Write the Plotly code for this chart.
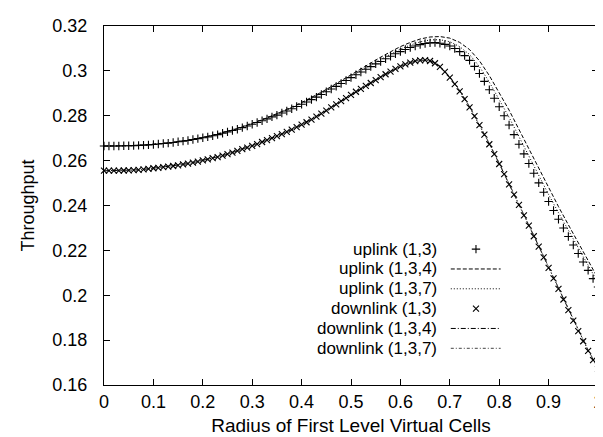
import numpy as np
import plotly.graph_objects as go

# ---------------- data ----------------
x_fine = np.round(np.linspace(0, 1, 101), 2)      # marker grid, step 0.01
x_coarse = np.round(np.linspace(0, 1, 51), 2)     # line grid, step 0.02

uplink_13 = [
    0.2665, 0.2665, 0.2665, 0.2665, 0.2666, 0.2666, 0.2667, 0.2668, 0.2669, 0.2670,
    0.2672, 0.2674, 0.2676, 0.2678, 0.2681, 0.2684, 0.2687, 0.2690, 0.2694, 0.2698,
    0.2702, 0.2706, 0.2711, 0.2716, 0.2722, 0.2728, 0.2734, 0.2740, 0.2747, 0.2754,
    0.2762, 0.2770, 0.2778, 0.2786, 0.2795, 0.2803, 0.2812, 0.2821, 0.2831, 0.2841,
    0.2851, 0.2861, 0.2872, 0.2883, 0.2895, 0.2907, 0.2919, 0.2931, 0.2944, 0.2957,
    0.2970, 0.2983, 0.2995, 0.3007, 0.3019, 0.3031, 0.3042, 0.3054, 0.3065, 0.3076,
    0.3086, 0.3095, 0.3104, 0.3111, 0.3117, 0.3122, 0.3125, 0.3126, 0.3123, 0.3118,
    0.3111, 0.3100, 0.3086, 0.3068, 0.3047, 0.3020, 0.2988, 0.2953, 0.2916, 0.2878,
    0.2840, 0.2800, 0.2759, 0.2716, 0.2673, 0.2630, 0.2587, 0.2544, 0.2501, 0.2459,
    0.2418, 0.2378, 0.2339, 0.2300, 0.2262, 0.2224, 0.2186, 0.2148, 0.2111, 0.2074,
    0.2037,
]

downlink_13 = [
    0.2555, 0.2555, 0.2555, 0.2555, 0.2556, 0.2557, 0.2558, 0.2559, 0.2561, 0.2563,
    0.2566, 0.2568, 0.2571, 0.2573, 0.2576, 0.2579, 0.2583, 0.2587, 0.2591, 0.2596,
    0.2601, 0.2606, 0.2611, 0.2616, 0.2622, 0.2629, 0.2636, 0.2643, 0.2651, 0.2658,
    0.2666, 0.2674, 0.2683, 0.2691, 0.2700, 0.2709, 0.2718, 0.2728, 0.2738, 0.2749,
    0.2760, 0.2771, 0.2783, 0.2796, 0.2809, 0.2823, 0.2837, 0.2851, 0.2865, 0.2879,
    0.2893, 0.2907, 0.2920, 0.2933, 0.2946, 0.2959, 0.2972, 0.2985, 0.2997, 0.3009,
    0.3020, 0.3029, 0.3037, 0.3043, 0.3047, 0.3048, 0.3044, 0.3034, 0.3018, 0.2996,
    0.2970, 0.2941, 0.2909, 0.2874, 0.2837, 0.2798, 0.2758, 0.2716, 0.2673, 0.2629,
    0.2585, 0.2540, 0.2494, 0.2448, 0.2403, 0.2356, 0.2310, 0.2263, 0.2217, 0.2169,
    0.2122, 0.2075, 0.2028, 0.1981, 0.1934, 0.1887, 0.1840, 0.1795, 0.1752, 0.1711,
    0.1672,
]

uplink_134 = [
    0.2665, 0.2665, 0.2666, 0.2667, 0.2669, 0.2672, 0.2676, 0.2681, 0.2688, 0.2695,
    0.2703, 0.2713, 0.2724, 0.2736, 0.2750, 0.2765, 0.2782, 0.2800, 0.2818, 0.2838,
    0.2859, 0.2881, 0.2905, 0.2930, 0.2956, 0.2985, 0.3011, 0.3036, 0.3061, 0.3085,
    0.3108, 0.3127, 0.3142, 0.3151, 0.3153, 0.3146, 0.3127, 0.3095, 0.3045, 0.2979,
    0.2905, 0.2825, 0.2739, 0.2652, 0.2565, 0.2478, 0.2395, 0.2314, 0.2234, 0.2154,
    0.2075,
]

uplink_137 = [
    0.2665, 0.2665, 0.2666, 0.2667, 0.2669, 0.2672, 0.2676, 0.2681, 0.2687, 0.2694,
    0.2702, 0.2712, 0.2723, 0.2735, 0.2748, 0.2763, 0.2780, 0.2797, 0.2815, 0.2834,
    0.2855, 0.2876, 0.2900, 0.2924, 0.2950, 0.2977, 0.3003, 0.3027, 0.3051, 0.3075,
    0.3097, 0.3115, 0.3129, 0.3138, 0.3139, 0.3130, 0.3108, 0.3073, 0.3019, 0.2950,
    0.2874, 0.2793, 0.2707, 0.2620, 0.2534, 0.2449, 0.2368, 0.2289, 0.2211, 0.2133,
    0.2056,
]

downlink_134 = [
    0.2555, 0.2555, 0.2556, 0.2558, 0.2561, 0.2566, 0.2571, 0.2576, 0.2583, 0.2591,
    0.2601, 0.2611, 0.2622, 0.2636, 0.2651, 0.2666, 0.2683, 0.2700, 0.2718, 0.2738,
    0.2760, 0.2783, 0.2809, 0.2837, 0.2865, 0.2893, 0.2920, 0.2946, 0.2972, 0.2997,
    0.3020, 0.3037, 0.3048, 0.3046, 0.3020, 0.2972, 0.2911, 0.2839, 0.2760, 0.2675,
    0.2587, 0.2496, 0.2405, 0.2312, 0.2219, 0.2124, 0.2030, 0.1936, 0.1842, 0.1754,
    0.1674,
]

downlink_137 = [
    0.2555, 0.2555, 0.2556, 0.2558, 0.2561, 0.2566, 0.2571, 0.2577, 0.2584, 0.2592,
    0.2601, 0.2611, 0.2623, 0.2637, 0.2652, 0.2667, 0.2684, 0.2701, 0.2719, 0.2739,
    0.2761, 0.2784, 0.2810, 0.2838, 0.2866, 0.2894, 0.2921, 0.2947, 0.2973, 0.2998,
    0.3021, 0.3038, 0.3049, 0.3047, 0.3022, 0.2974, 0.2913, 0.2841, 0.2762, 0.2677,
    0.2589, 0.2498, 0.2407, 0.2314, 0.2221, 0.2126, 0.2032, 0.1938, 0.1844, 0.1756,
    0.1676,
]

series_names = ["uplink (1,3)", "uplink (1,3,4)", "uplink (1,3,7)",
                "downlink (1,3)", "downlink (1,3,4)", "downlink (1,3,7)"]

x_tickvals = [0, 0.1, 0.2, 0.3, 0.4, 0.5, 0.6, 0.7, 0.8, 0.9, 1]
x_ticktext = ["0", "0.1", "0.2", "0.3", "0.4", "0.5", "0.6", "0.7", "0.8", "0.9", "1"]
y_tickvals = [0.16, 0.18, 0.20, 0.22, 0.24, 0.26, 0.28, 0.30, 0.32]
y_ticktext = ["0.16", "0.18", "0.2", "0.22", "0.24", "0.26", "0.28", "0.3", "0.32"]

# ---------------- styles ----------------
FONT = "Liberation Sans, Arial, sans-serif"
FS = 18
KEY_FS = 17
styles = {
    "uplink (1,3)": dict(mode="markers", marker=dict(symbol="cross-thin", size=6, line=dict(width=1.1, color="black"))),
    "uplink (1,3,4)": dict(mode="lines", line=dict(color="black", width=1, dash="4px,2px")),
    "uplink (1,3,7)": dict(mode="lines", line=dict(color="black", width=1, dash="1px,2px")),
    "downlink (1,3)": dict(mode="markers", marker=dict(symbol="x-thin", size=6, line=dict(width=1.1, color="black"))),
    "downlink (1,3,4)": dict(mode="lines", line=dict(color="black", width=1, dash="5px,2px,1px,2px")),
    "downlink (1,3,7)": dict(mode="lines", line=dict(color="#444444", width=1, dash="3px,2px,1px,2px")),
}
data = {
    "uplink (1,3)": (x_fine, uplink_13),
    "uplink (1,3,4)": (x_coarse, uplink_134),
    "uplink (1,3,7)": (x_coarse, uplink_137),
    "downlink (1,3)": (x_fine, downlink_13),
    "downlink (1,3,4)": (x_coarse, downlink_134),
    "downlink (1,3,7)": (x_coarse, downlink_137),
}

fig = go.Figure()
for name in ["uplink (1,3,4)", "uplink (1,3,7)", "downlink (1,3,4)", "downlink (1,3,7)",
             "uplink (1,3)", "downlink (1,3)"]:
    xs, ys = data[name]
    fig.add_trace(go.Scatter(x=xs, y=ys, name=name, showlegend=False,
                             cliponaxis=False, **styles[name]))

# ---------------- gnuplot-style key (text right-aligned, sample on its right) ----------------
key_text_x = 0.676
key_sample_x0, key_sample_x1, key_mark_x = 0.702, 0.803, 0.753
key_rows = [0.3785, 0.3232, 0.2680, 0.2127, 0.1575, 0.1022]
for name, ky in zip(series_names, key_rows):
    fig.add_annotation(x=key_text_x, y=ky, xref="paper", yref="paper",
                       text=name, showarrow=False, xanchor="right", yanchor="middle",
                       borderpad=0,
                       font=dict(family=FONT, size=KEY_FS, color="black"))
    st = styles[name]
    if st["mode"] == "markers":
        fig.add_trace(go.Scatter(x=[key_mark_x], y=[ky], xaxis="x2", yaxis="y2",
                                 showlegend=False, hoverinfo="skip", **st))
    else:
        fig.add_trace(go.Scatter(x=[key_sample_x0, key_sample_x1], y=[ky, ky],
                                 xaxis="x2", yaxis="y2", showlegend=False,
                                 hoverinfo="skip", **st))

axis_common = dict(showgrid=False, zeroline=False, showline=True, linecolor="black",
                   linewidth=1, mirror="ticks", ticks="inside", ticklen=6,
                   tickcolor="black", tickwidth=1,
                   tickfont=dict(family=FONT, size=FS, color="black"))

fig.update_layout(
    width=603, height=437,
    margin=dict(l=96, r=8, t=15, b=60),
    paper_bgcolor="white", plot_bgcolor="white",
    font=dict(family=FONT, size=FS, color="black"),
    xaxis=dict(range=[0, 1], tickvals=x_tickvals, ticktext=x_ticktext,
               title=dict(text="Radius of First Level Virtual Cells",
                          font=dict(family=FONT, size=19), standoff=8),
               **axis_common),
    yaxis=dict(range=[0.16, 0.32], tickvals=y_tickvals, ticktext=y_ticktext,
               ticklabelstandoff=12,
               title=dict(text="Throughput", font=dict(family=FONT, size=FS), standoff=13),
               **axis_common),
    xaxis2=dict(overlaying="x", range=[0, 1], visible=False, fixedrange=True),
    yaxis2=dict(overlaying="y", range=[0, 1], visible=False, fixedrange=True),
    showlegend=False,
)

fig.write_html("out.html")
